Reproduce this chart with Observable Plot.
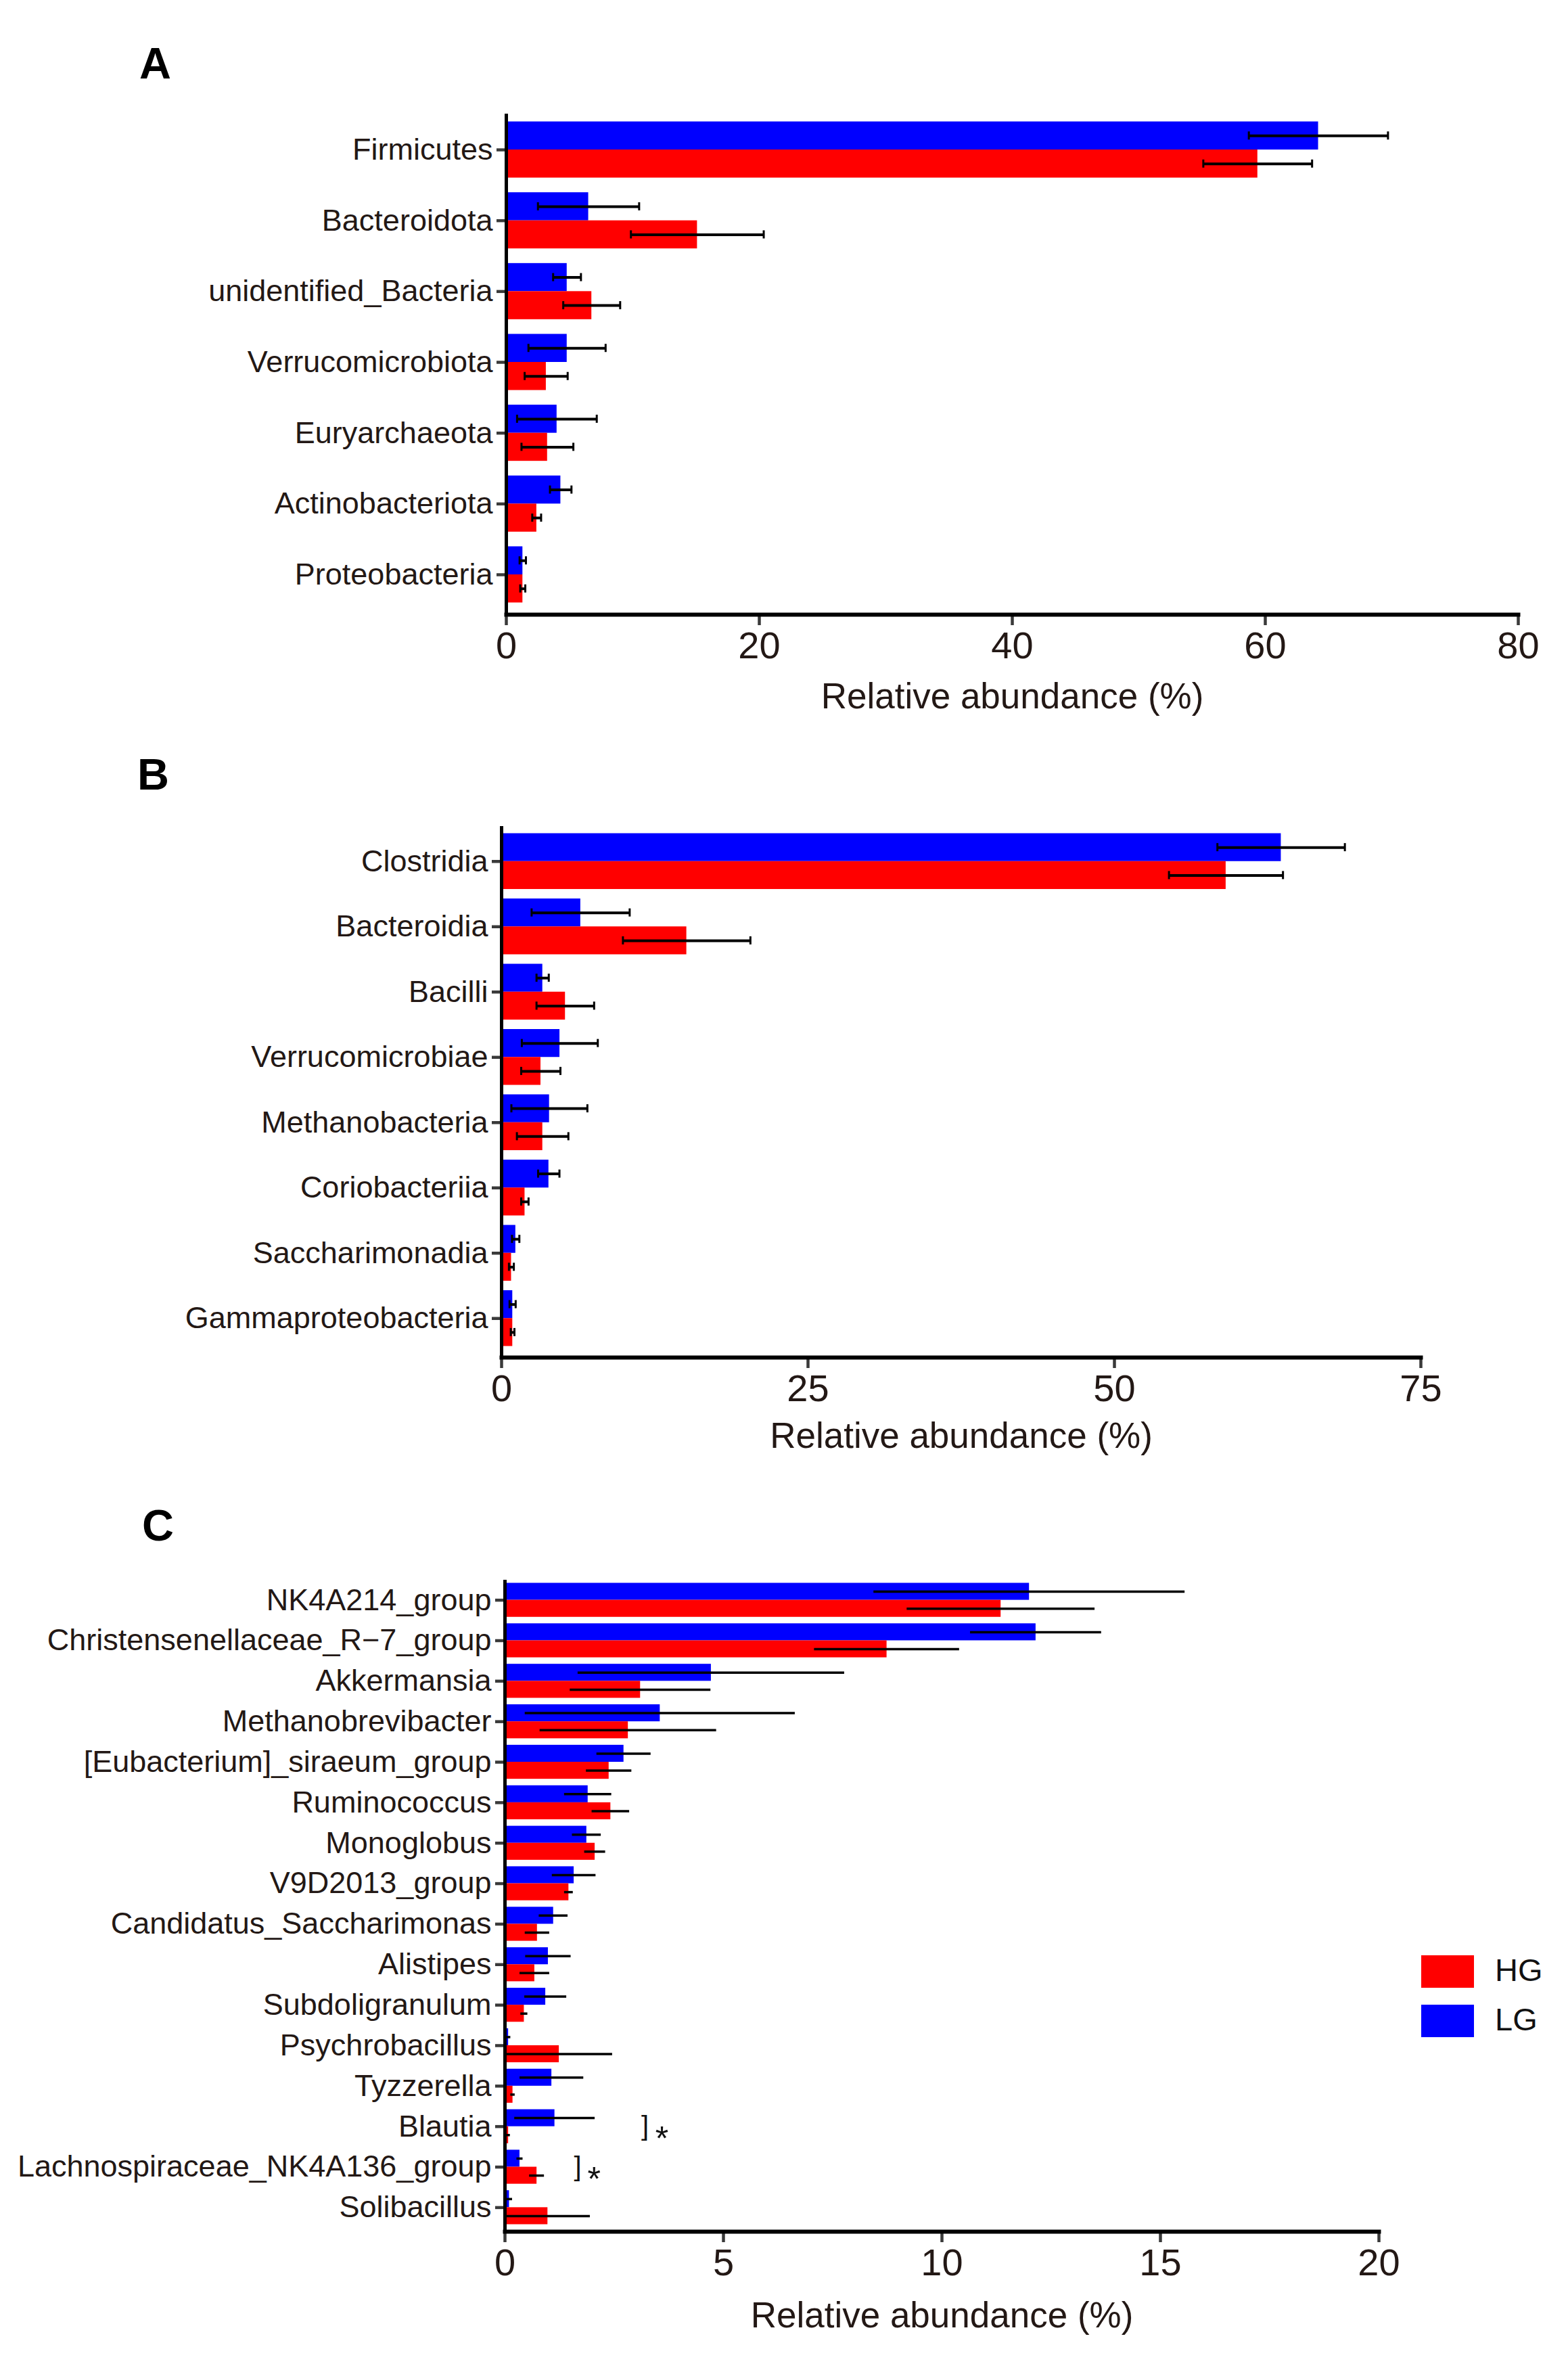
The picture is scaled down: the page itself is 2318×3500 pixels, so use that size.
<!DOCTYPE html>
<html>
<head>
<meta charset="utf-8">
<script src="https://cdn.jsdelivr.net/npm/d3@7"></script>
<script src="https://cdn.jsdelivr.net/npm/@observablehq/plot@0.6"></script>
<style>
  body { margin: 0; background: #fff; }
  #page { position: relative; width: 2318px; height: 3500px; background: #fff; font-family: "Liberation Sans", Arial, sans-serif; color: #231815; }
  .panel { position: absolute; left: 0; }
  .sw { position: absolute; width: 78px; height: 48px; }
  .lt { position: absolute; font-size: 47px; line-height: 48px; color: #111; }
</style>
</head>
<body>
<div id="page">
  <div id="pA" class="panel" style="top:0px"></div>
  <div id="pB" class="panel" style="top:1100px"></div>
  <div id="pC" class="panel" style="top:2200px"></div>
  <div class="sw" style="left:2101px; top:2890px; background:#ff0000"></div>
  <div class="lt" style="left:2210px; top:2888px">HG</div>
  <div class="sw" style="left:2101px; top:2963px; background:#0000ff"></div>
  <div class="lt" style="left:2210px; top:2961px">LG</div>
</div>
<script>
// ---------- Panel A: phylum ----------
const phylumCats = ["Firmicutes", "Bacteroidota", "unidentified_Bacteria", "Verrucomicrobiota", "Euryarchaeota", "Actinobacteriota", "Proteobacteria"];
const phylumLG   = [64.2, 6.5, 4.8, 4.8, 4.0, 4.3, 1.3];
const phylumLGsd = [5.5, 4.0, 1.1, 3.05, 3.15, 0.85, 0.25];
const phylumHG   = [59.4, 15.1, 6.75, 3.15, 3.25, 2.4, 1.3];
const phylumHGsd = [4.3, 5.25, 2.25, 1.7, 2.05, 0.35, 0.2];
const phylumTicks = [0, 20, 40, 60, 80];

// ---------- Panel B: class ----------
const classCats = ["Clostridia", "Bacteroidia", "Bacilli", "Verrucomicrobiae", "Methanobacteria", "Coriobacteriia", "Saccharimonadia", "Gammaproteobacteria"];
const classLG   = [63.6, 6.45, 3.35, 4.75, 3.9, 3.85, 1.15, 0.9];
const classLGsd = [5.2, 4.0, 0.5, 3.1, 3.1, 0.87, 0.3, 0.25];
const classHG   = [59.1, 15.1, 5.2, 3.2, 3.35, 1.9, 0.8, 0.9];
const classHGsd = [4.65, 5.2, 2.35, 1.6, 2.1, 0.3, 0.2, 0.15];
const classTicks = [0, 25, 50, 75];

// ---------- Panel C: genus ----------
const genusCats = ["NK4A214_group", "Christensenellaceae_R\u22127_group", "Akkermansia", "Methanobrevibacter", "[Eubacterium]_siraeum_group", "Ruminococcus", "Monoglobus", "V9D2013_group", "Candidatus_Saccharimonas", "Alistipes", "Subdoligranulum", "Psychrobacillus", "Tyzzerella", "Blautia", "Lachnospiraceae_NK4A136_group", "Solibacillus"];
const genusLG   = [12.0, 12.15, 4.72, 3.55, 2.72, 1.9, 1.87, 1.58, 1.11, 0.99, 0.93, 0.08, 1.07, 1.14, 0.34, 0.1];
const genusLGsd = [3.56, 1.5, 3.05, 3.09, 0.62, 0.54, 0.33, 0.5, 0.33, 0.52, 0.48, 0.05, 0.73, 0.92, 0.07, 0.07];
const genusHG   = [11.35, 8.74, 3.1, 2.82, 2.38, 2.42, 2.06, 1.46, 0.74, 0.68, 0.44, 1.24, 0.18, 0.08, 0.73, 0.98];
const genusHGsd = [2.15, 1.66, 1.61, 2.02, 0.52, 0.43, 0.24, 0.1, 0.28, 0.34, 0.08, 1.22, 0.05, 0.04, 0.17, 0.97];
const genusTicks = [0, 5, 10, 15, 20];

// significance annotations (panel C)
const sigCats = ["Blautia", "Lachnospiraceae_NK4A136_group"];
const sigBracketX = [3.12, 1.58];
const sigStarX = [3.44, 1.89];

const xTitle = "Relative abundance (%)";
const textColor = "#231815";

function panel(o) {
  const lgRows = o.cats.map((c, i) => ({cat: c, v: o.lg[i], sd: o.lgSd[i]}));
  const hgRows = o.cats.map((c, i) => ({cat: c, v: o.hg[i], sd: o.hgSd[i]}));
  const n = o.cats.length;
  const step = (o.yRange[1] - o.yRange[0]) / (n - o.pi + 2 * o.po);
  const bw = step * (1 - o.pi);
  const half = bw / 2;
  const lo = d => Math.max(0, d.v - d.sd);
  const hi = d => d.v + d.sd;
  const marks = [
    Plot.barX(lgRows, {y: "cat", x1: 0, x2: "v", fill: "#0000ff", insetBottom: half}),
    Plot.barX(hgRows, {y: "cat", x1: 0, x2: "v", fill: "#ff0000", insetTop: half}),
    Plot.ruleY(lgRows, {y: "cat", x1: lo, x2: hi, dy: -bw / 4, stroke: "#000", strokeWidth: o.ew}),
    Plot.ruleY(hgRows, {y: "cat", x1: lo, x2: hi, dy: bw / 4, stroke: "#000", strokeWidth: o.ew})
  ];
  if (o.caps) {
    const c = 6;
    for (const [rows, top] of [[lgRows, bw / 4], [hgRows, 3 * bw / 4]]) {
      for (const f of [lo, hi]) {
        marks.push(Plot.tickX(rows, {y: "cat", x: f, stroke: "#000", strokeWidth: 3, insetTop: top - c, insetBottom: bw - top - c}));
      }
    }
  }
  marks.push(
    Plot.axisY({tickSize: 14, tickPadding: 6, fontSize: 45, strokeWidth: 4.5, stroke: "#3a3a3a", fill: textColor, label: null}),
    Plot.axisX({ticks: o.ticks, tickSize: 16, tickPadding: 9, fontSize: 56, strokeWidth: 4.5, stroke: "#3a3a3a", fill: textColor, label: null, tickFormat: d => String(d)}),
    Plot.ruleX([0], {stroke: "#000", strokeWidth: 5}),
    Plot.frame({anchor: "bottom", stroke: "#000", strokeWidth: 6}),
    Plot.text([xTitle], {frameAnchor: "bottom", lineAnchor: "middle", dy: o.titleDy, fontSize: 53, fill: textColor}),
    Plot.text([o.letter], {frameAnchor: "top-left", lineAnchor: "middle", dx: o.letterDx, dy: o.letterDy, fontSize: 65, fontWeight: "bold", fill: "#000", textAnchor: "middle"})
  );
  if (o.sig) {
    const sigRows = o.sig.cats.map((c, i) => ({cat: c, bx: o.sig.bx[i], sx: o.sig.sx[i]}));
    marks.push(
      Plot.text(sigRows, {y: "cat", x: "bx", text: () => "]", textAnchor: "start", fontSize: 40, fill: "#111"}),
      Plot.text(sigRows, {y: "cat", x: "sx", text: () => "*", textAnchor: "start", fontSize: 50, dy: 19, fill: "#111"})
    );
  }
  return Plot.plot({
    width: 2318,
    height: o.height,
    marginTop: o.mt,
    marginBottom: o.mb,
    marginLeft: o.ml,
    marginRight: o.mr,
    style: {fontFamily: '"Liberation Sans", Arial, sans-serif', background: "#fff", overflow: "visible"},
    x: {domain: o.domain, label: null},
    y: {domain: o.cats, range: o.yRange, paddingInner: o.pi, paddingOuter: o.po, round: false, label: null},
    marks
  });
}

document.getElementById("pA").append(panel({
  letter: "A", cats: phylumCats, lg: phylumLG, lgSd: phylumLGsd, hg: phylumHG, hgSd: phylumHGsd,
  height: 1100, mt: 168, mb: 192, ml: 748, mr: 74, yRange: [168, 902], pi: 0.207, po: 0.11,
  domain: [0, 80], ticks: phylumTicks, caps: true, ew: 4, titleDy: 122, letterDx: -519, letterDy: -73
}));
document.getElementById("pB").append(panel({
  letter: "B", cats: classCats, lg: classLG, lgSd: classLGsd, hg: classHG, hgSd: classHGsd,
  height: 1100, mt: 121, mb: 194, ml: 741, mr: 218, yRange: [121, 900], pi: 0.145, po: 0.109,
  domain: [0, 75], ticks: classTicks, caps: true, ew: 4, titleDy: 117, letterDx: -515, letterDy: -75
}));
document.getElementById("pC").append(panel({
  letter: "C", cats: genusCats, lg: genusLG, lgSd: genusLGsd, hg: genusHG, hgSd: genusHGsd,
  height: 1300, mt: 135, mb: 202, ml: 746, mr: 280, yRange: [135, 1092], pi: 0.16, po: 0.075,
  domain: [0, 20], ticks: genusTicks, caps: false, ew: 3.5, titleDy: 125, letterDx: -513, letterDy: -79,
  sig: {cats: sigCats, bx: sigBracketX, sx: sigStarX}
}));
</script>
</body>
</html>
